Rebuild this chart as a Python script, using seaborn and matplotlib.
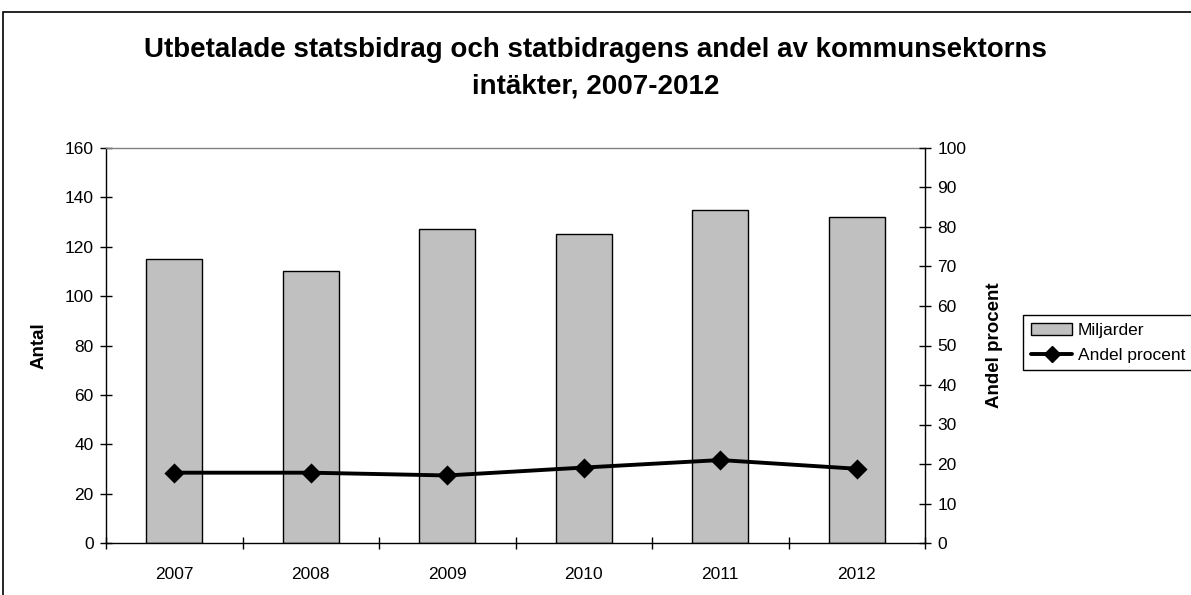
import matplotlib
matplotlib.use("Agg")
import matplotlib.pyplot as plt
import pandas as pd
import seaborn as sns
from matplotlib.lines import Line2D
from matplotlib.patches import Patch, Rectangle
from matplotlib.ticker import FixedLocator, MultipleLocator

years = ["2007", "2008", "2009", "2010", "2011", "2012"]
miljarder = [115, 110, 127, 125, 135, 132]
andel_procent = [17.8, 17.8, 17.1, 19.1, 21.0, 18.8]

TITLE = "Utbetalade statsbidrag och statbidragens andel av kommunsektorns\nintäkter, 2007-2012"

df = pd.DataFrame({"year": years, "miljarder": miljarder, "andel": andel_procent})

sns.set_theme(style="white")
plt.rcParams["font.family"] = ["Liberation Sans", "DejaVu Sans"]
plt.rcParams.update({"text.color": "black", "axes.labelcolor": "black",
                     "xtick.color": "black", "ytick.color": "black"})

fig = plt.figure(figsize=(11.91, 5.95), dpi=100)
ax = fig.add_axes([106 / 1191, 1 - 543 / 595, (925 - 106) / 1191, (543 - 148) / 595])

sns.barplot(data=df, x="year", y="miljarder", ax=ax, color="#c0c0c0",
            edgecolor="black", linewidth=1.0, width=0.41, saturation=1)
ax.set_ylim(0, 160)
ax.set_xlim(-0.5, 5.5)
ax.yaxis.set_major_locator(MultipleLocator(20))
ax.set_ylabel("Antal", fontsize=13.5, fontweight="bold", labelpad=12)
ax.set_xlabel("")

ax2 = ax.twinx()
sns.pointplot(data=df, x="year", y="andel", ax=ax2, color="black", markers="D",
              linestyles="-", markersize=8.5, linewidth=2.8, errorbar=None)
ax2.set_ylim(0, 100)
ax2.set_xlim(-0.5, 5.5)
ax2.yaxis.set_major_locator(MultipleLocator(10))
ax2.set_ylabel("Andel procent", fontsize=13.5, fontweight="bold", labelpad=14)
ax2.set_xlabel("")

for a in (ax, ax2):
    for s in a.spines.values():
        s.set_visible(False)
ax.spines["left"].set_visible(True)
ax.spines["bottom"].set_visible(True)
ax.spines["top"].set_visible(True)
ax.spines["left"].set_color("black")
ax.spines["bottom"].set_color("black")
ax.spines["top"].set_color("#808080")
ax2.spines["right"].set_visible(True)
ax2.spines["right"].set_color("black")
for a in (ax, ax2):
    for s in a.spines.values():
        s.set_linewidth(1.0)

# category labels centred, tick marks on category boundaries
ax.xaxis.set_minor_locator(FixedLocator([-0.5, 0.5, 1.5, 2.5, 3.5, 4.5, 5.5]))
ax.tick_params(axis="x", which="major", length=0, labelsize=12.5, pad=17)
ax.tick_params(axis="x", which="minor", direction="inout", length=8, width=1, color="black", bottom=True)
ax.tick_params(axis="y", direction="inout", length=8, width=1, color="black", labelsize=12.5, left=True, pad=5)
ax2.tick_params(axis="y", direction="inout", length=8, width=1, color="black", labelsize=12.5, right=True, pad=5)

ax.set_zorder(1)
ax2.set_zorder(2)
ax2.patch.set_visible(False)

fig.text(0.5, 1 - 68 / 595, TITLE, ha="center", va="center", fontsize=20,
         fontweight="bold", linespacing=1.5)

handles = [Patch(facecolor="#c0c0c0", edgecolor="black", linewidth=1.0),
           Line2D([0], [0], color="black", linewidth=2.8, marker="D", markersize=8)]
leg = fig.legend(handles, ["Miljarder", "Andel procent"], loc="upper left",
                 bbox_to_anchor=(1023 / 1191, 1 - 315 / 595), fontsize=12.5,
                 frameon=True, fancybox=False, edgecolor="black", framealpha=1,
                 borderpad=0.45, handlelength=2.4, handletextpad=0.3, labelspacing=0.55,
                 borderaxespad=0)
leg.get_frame().set_linewidth(1.0)

fig.add_artist(Rectangle((3 / 1191, -0.1), 1.2, 1.1 - 12 / 595, transform=fig.transFigure,
                         fill=False, edgecolor="black", linewidth=1.2))

fig.savefig("out.png", dpi=100)
